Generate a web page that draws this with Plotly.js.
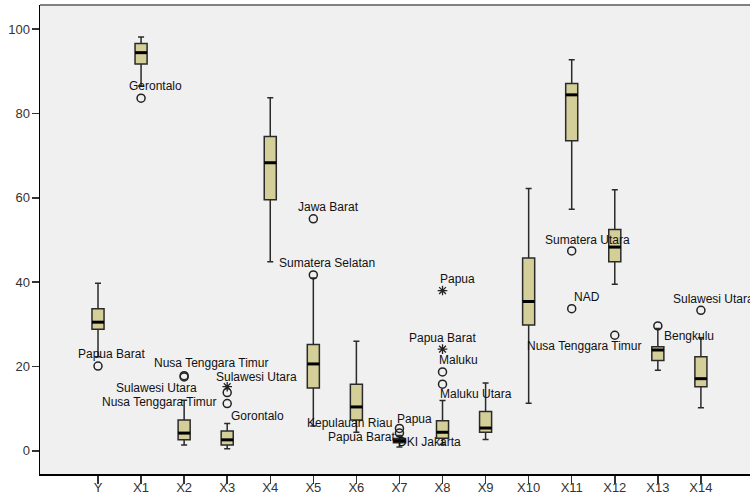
<!DOCTYPE html>
<html>
<head>
<meta charset="utf-8">
<script src="https://cdn.plot.ly/plotly-3.0.1.min.js"></script>
<style>html,body{margin:0;padding:0;background:#fff;overflow:hidden}#chart{width:750px;height:495px}</style>
</head>
<body>
<div id="chart"></div>
<script>
// ---- data ----
const categories = ['Y','X1','X2','X3','X4','X5','X6','X7','X8','X9','X10','X11','X12','X13','X14'];
const lowerWhisker = [22.3, 86.5, 1.35, 0.5, 44.8, 5.9, 4.4, 0.9, 1.5, 2.7, 11.3, 57.3, 39.5, 19.1, 10.2];
const q1Values     = [28.8, 91.7, 2.6, 1.35, 59.5, 14.9, 7.3, 1.9, 3.0, 4.4, 29.8, 73.5, 44.8, 21.4, 15.2];
const medianValues = [30.5, 94.4, 4.2, 2.6, 68.3, 20.6, 10.4, 2.4, 4.4, 5.4, 35.4, 84.4, 48.3, 23.9, 17.1];
const q3Values     = [33.7, 96.6, 7.3, 4.7, 74.5, 25.2, 15.8, 2.9, 7.1, 9.3, 45.7, 87.1, 52.5, 24.7, 22.3];
const upperWhisker = [39.7, 98.1, 12.0, 6.5, 83.7, 41.0, 26.0, 3.6, 11.9, 16.1, 62.2, 92.7, 61.9, 29.0, 26.8];

// outliers (circle) and extremes (star)
const outlierCat = ['Y','X1','X2','X2','X3','X3','X5','X5','X7','X7','X8','X8','X11','X11','X12','X13','X14'];
const outlierVal = [20.1, 83.6, 17.8, 17.5, 13.8, 11.2, 55.0, 41.7, 5.3, 4.2, 18.7, 15.8, 47.4, 33.7, 27.4, 29.6, 33.3];
const extremeCat = ['X3','X8','X8'];
const extremeVal = [15.2, 38.0, 24.1];

// case labels
const labelCat  = ['Y','X1','X2','X3','X3','X3','X3','X5','X5','X7','X7','X7','X7','X8','X8','X8','X8','X11','X11','X12','X13','X14'];
const labelVal  = [20.1, 83.6, 17.8, 15.2, 13.8, 11.2, 6.5, 55.0, 41.7, 5.3, 5.3, 4.2, 4.2, 38.0, 24.1, 18.7, 15.8, 47.4, 33.7, 27.4, 29.6, 33.3];
const labelText = ['Papua Barat','Gerontalo','Nusa Tenggara Timur','Sulawesi Utara','Sulawesi Utara','Nusa Tenggara Timur','Gorontalo',
  'Jawa Barat','Sumatera Selatan','Papua','Kepulauan Riau','Papua Barat','DKI Jakarta','Papua','Papua Barat','Maluku','Maluku Utara',
  'Sumatera Utara','NAD','Nusa Tenggara Timur','Bengkulu','Sulawesi Utara'];

// ---- label placement (pixel offsets from the labelled point) ----
const labelShift = [[13,-12],[14,-12],[27,-13],[29,-10],[-71,-5],[-68,-2],[30,-7],
  [15,-12],[14,-12],[15,-9],[-50,-5],[-38,4],[30,9],[15,-12],[0,-11],[16,-12],[33,10],
  [16,-11],[15,-12],[-30,11],[31,10],[13,-11]];

const idx = c => categories.indexOf(c);
const xs = categories.map((c,i)=>i);
const boxW = 0.28;

const boxTrace = {
  type:'box', x: xs,
  q1: q1Values, median: medianValues, q3: q3Values,
  lowerfence: lowerWhisker, upperfence: upperWhisker,
  boxpoints:false, width: boxW, whiskerwidth: 0.5,
  fillcolor:'#d4cf98', line:{color:'#2a2a2a', width:1.5},
  hoverinfo:'skip', showlegend:false
};

const mx=[], my=[];
xs.forEach((x,i)=>{ mx.push(x-boxW/2, x+boxW/2, null); my.push(medianValues[i], medianValues[i], null); });
const medianTrace = {type:'scatter', mode:'lines', x:mx, y:my, line:{color:'#000', width:3}, hoverinfo:'skip', showlegend:false};

const outTrace = {type:'scatter', mode:'markers', x: outlierCat.map(idx), y: outlierVal,
  marker:{symbol:'circle-open', size:8, color:'#222', line:{width:1.5, color:'#222'}}, hoverinfo:'skip', showlegend:false};
const extTrace = {type:'scatter', mode:'markers', x: extremeCat.map(idx), y: extremeVal,
  marker:{symbol:'asterisk-open', size:8, color:'#222', line:{width:1.3, color:'#222'}}, hoverinfo:'skip', showlegend:false};

const annotations = labelText.map((t,i)=>({
  x: idx(labelCat[i]), y: labelVal[i], text: t, showarrow:false,
  xanchor:'center', yanchor:'middle', xshift: labelShift[i][0], yshift: -labelShift[i][1],
  font:{family:'Liberation Sans, Arial, sans-serif', size:12, color:'#111'}
}));

const layout = {
  width:750, height:495,
  margin:{l:40, r:0, t:5, b:21},
  paper_bgcolor:'#ffffff', plot_bgcolor:'#f0f0f0',
  showlegend:false,
  font:{family:'Liberation Sans, Arial, sans-serif', size:13, color:'#222'},
  xaxis:{range:[-1.347, 15.14], tickvals: xs, ticktext: categories, showgrid:false, zeroline:false,
    showline:true, linecolor:'#000', linewidth:1.5, ticks:'outside', ticklen:8, tickwidth:1.5, tickcolor:'#333',
    ticklabelstandoff:-7, tickfont:{size:13, color:'#333'}},
  yaxis:{range:[-5.5, 105.7], tickvals:[0,20,40,60,80,100], showgrid:false, zeroline:false,
    showline:true, linecolor:'#000', linewidth:1.5, ticks:'outside', ticklen:7, tickwidth:1.5, tickcolor:'#333',
    ticklabelstandoff:-1, tickfont:{size:13, color:'#333'}},
  shapes:[{type:'line', xref:'paper', yref:'paper', x0:0, x1:1, y0:1, y1:1, line:{color:'#808080', width:2}}],
  annotations: annotations
};

Plotly.newPlot('chart', [boxTrace, medianTrace, outTrace, extTrace], layout, {staticPlot:true, displayModeBar:false});
</script>
</body>
</html>
